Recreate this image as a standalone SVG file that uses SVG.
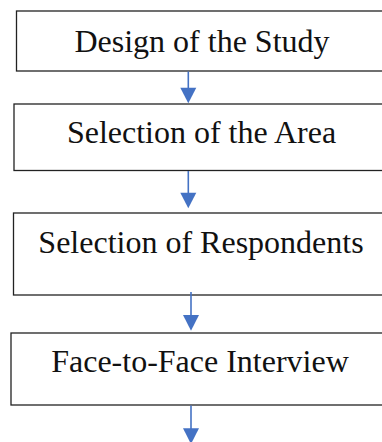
<svg xmlns="http://www.w3.org/2000/svg" width="382" height="442" viewBox="0 0 382 442">
<style>
.box{fill:#fff;stroke:#222;stroke-width:1.3}
.lbl{font-family:"Liberation Serif","Times New Roman",serif;font-size:32px;fill:#111;text-anchor:middle}
.conn{stroke:#4472C4;stroke-width:1.6;fill:none}
.head{fill:#4472C4}
</style>
<rect width="382" height="442" fill="#fff"/>
<g id="n1"><rect class="box" x="16.5" y="11" width="380" height="60"/><text class="lbl" x="202" y="52">Design of the Study</text></g>
<g id="n2"><rect class="box" x="14" y="104" width="380" height="66.5"/><text class="lbl" x="201.5" y="143">Selection of the Area</text></g>
<g id="n3"><rect class="box" x="13.5" y="213" width="380" height="82"/><text class="lbl" x="201" y="253">Selection of Respondents</text></g>
<g id="n4"><rect class="box" x="11" y="333" width="380" height="72"/><text class="lbl" x="200" y="372">Face-to-Face Interview</text></g>
<g id="connectors">
<line class="conn" x1="188.3" y1="71.5" x2="188.3" y2="89"/><polygon class="head" points="180.3,87.7 196.3,87.7 188.3,103.3"/>
<line class="conn" x1="188.3" y1="171" x2="188.3" y2="194"/><polygon class="head" points="180.3,192.7 196.3,192.7 188.3,208.3"/>
<line class="conn" x1="191" y1="292" x2="191" y2="316"/><polygon class="head" points="183,315 199,315 191,330.7"/>
<line class="conn" x1="191" y1="405.5" x2="191" y2="429"/><polygon class="head" points="183,428.3 199,428.3 191,444"/>
</g>
</svg>
